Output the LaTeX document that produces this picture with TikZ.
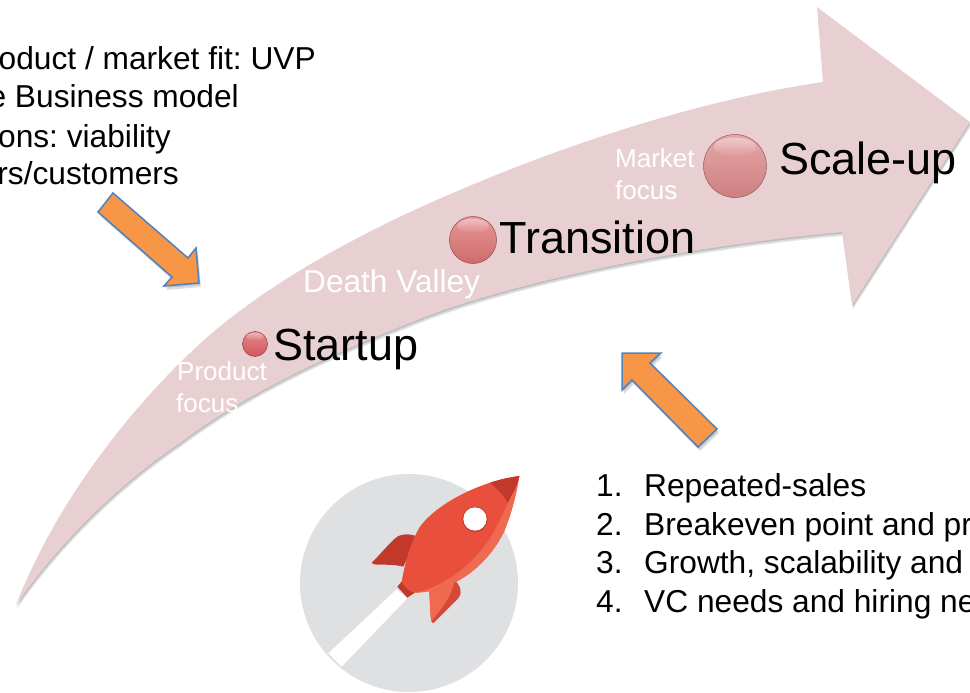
\documentclass[tikz,border=0pt]{standalone}
\usepackage{fontspec}
\setmainfont{Liberation Sans}
\usetikzlibrary{fadings}
\definecolor{bandpink}{HTML}{E8D0D2}
\definecolor{blockorange}{HTML}{F79646}
\definecolor{blockblue}{HTML}{4F81BD}
\definecolor{discgrey}{HTML}{DFE0E2}
\definecolor{rocketred}{HTML}{E94F3D}
\definecolor{rocketlight}{HTML}{EF6A50}
\definecolor{rocketdark}{HTML}{C0392B}
\definecolor{beadone}{HTML}{DF5F63}
\definecolor{beadtwo}{HTML}{E07476}
\definecolor{beadthree}{HTML}{DE8A8B}
\tikzset{
  x=1pt,y=-1pt,
  blackword/.style={font=\fontsize{45}{50}\selectfont,text=black,anchor=base west,inner sep=0pt},
  paleword/.style={font=\fontsize{26}{30}\selectfont,text=white,anchor=base west,inner sep=0pt},
  listword/.style={font=\fontsize{31.7}{36}\selectfont,text=black,inner sep=0pt},
  blockarrow/.style={fill=blockorange,draw=blockblue,line width=1.5pt,line join=miter},
}
\newcommand{\bandshape}{(16,605) .. controls (55,505) and (125,415) .. (190,353)
  .. controls (250,295) and (340,243) .. (430,203)
  .. controls (560,145) and (700,100) .. (823,82)
  -- (817,7) -- (970,122) -- (852,305) -- (842,232)
  .. controls (700,245) and (540,275) .. (430,315)
  .. controls (340,350) and (250,390) .. (180,443)
  .. controls (110,490) and (50,555) .. (16,605) -- cycle}
\newcommand{\arrowone}{(113,193) -- (188,258) -- (196,248) -- (199,283) -- (164,286) -- (172,277) -- (98,212) -- cycle}
\newcommand{\arrowtwo}{(622,353) -- (661,353) -- (650,363) -- (717,429) -- (698,447) -- (632,380) -- (622,390) -- cycle}
\newcommand{\beadat}[4]{%
  \shade[top color=#4!75!white,bottom color=#4!92!black,draw=#4!65!black,line width=0.5pt] (#1,#2) circle (#3);
  \fill[white,opacity=0.4,path fading=south] (#1,#2-#3*0.6) ellipse ({#3*0.68} and {#3*0.3});
}
\begin{document}
\frenchspacing
\begin{tikzpicture}
\useasboundingbox (0,0) rectangle (970,693);
\clip (0,0) rectangle (970,693);
% rocket disc and band
\fill[discgrey] (409,583) circle (109);
\begin{scope}[shift={(1,4)}]\fill[black,opacity=0.07] \bandshape;\end{scope}
\begin{scope}[shift={(1,3)}]\fill[black,opacity=0.09] \bandshape;\end{scope}
\begin{scope}[shift={(0.5,1.5)}]\fill[black,opacity=0.12] \bandshape;\end{scope}
\fill[bandpink] \bandshape;
% rocket
\begin{scope}[shift={(280,460)},x=0.3333pt,y=-0.3333pt]
  \fill[white] (350,388) -- (382,415) -- (185,620) -- (145,580) -- cycle;
  \fill[rocketdark] (275,308) .. controls (300,285) and (335,240) .. (355,228) .. controls (375,220) and (395,222) .. (412,230) -- (370,320) .. controls (340,312) and (300,315) .. (282,313) -- cycle;
  \fill[rocketred!92!black] (520,360) .. controls (540,370) and (550,395) .. (535,415) -- (462,488) .. controls (455,493) and (453,480) .. (452,470) -- (448,395) -- cycle;
  \fill[rocketlight] (448,395) -- (452,470) -- (455,482) .. controls (490,440) and (515,410) .. (522,365) -- cycle;
  \fill[rocketdark] (352,380) -- (365,365) -- (405,398) -- (382,413) -- cycle;
  \fill[rocketred] (718,48) .. controls (620,60) and (480,120) .. (420,200) .. controls (390,250) and (375,310) .. (365,365) .. controls (375,385) and (390,395) .. (405,398) .. controls (520,395) and (620,320) .. (672,215) .. controls (695,160) and (710,100) .. (718,48) -- cycle;
  \fill[rocketlight] (718,48) .. controls (710,100) and (695,160) .. (672,215) .. controls (620,320) and (520,395) .. (405,398) .. controls (500,380) and (600,300) .. (650,200) .. controls (675,150) and (700,100) .. (718,48) -- cycle;
  \fill[rocketdark] (718,48) .. controls (690,52) and (660,58) .. (630,68) .. controls (650,85) and (670,105) .. (683,127) .. controls (700,100) and (712,75) .. (718,48) -- cycle;
  \fill[rocketdark] (585,178) circle (38);
  \fill[white] (585,177) circle (35);
\end{scope}
% orange block arrows
\begin{scope}[shift={(2,4)}]
  \fill[black,opacity=0.13] \arrowone;
  \fill[black,opacity=0.13] \arrowtwo;
\end{scope}
\begin{scope}[shift={(1,2)}]
  \fill[black,opacity=0.13] \arrowone;
  \fill[black,opacity=0.13] \arrowtwo;
\end{scope}
\path[blockarrow] \arrowone;
\path[blockarrow] \arrowtwo;
% beads
\beadat{255}{344}{12.5}{beadone}
\beadat{473}{240}{23.5}{beadtwo}
\beadat{735}{166}{31.5}{beadthree}
% stage labels
\node[blackword] (startup) at (273,360) {Startup};
\node[blackword] (transition) at (499,253) {Transition};
\node[blackword] (scaleup) at (779,174) {Scale-up};
\node[paleword,font=\fontsize{31.6}{36}\selectfont] (death) at (303,292) {Death Valley};
\node[paleword] (product) at (177,380) {Product};
\node[paleword] (pfocus) at (176,412) {focus};
\node[paleword] (market) at (615,167) {Market};
\node[paleword] (mfocus) at (615,199) {focus};
% upper-left list
\node[listword,anchor=base east] (l1) at (316,70) {oduct / market fit: UVP};
\node[listword,anchor=base east] (l2) at (239,107) {e Business model};
\node[listword,anchor=base east] (l3) at (171,147) {ons: viability};
\node[listword,anchor=base east] (l4) at (179,184) {rs/customers};
% lower-right list
\node[listword,anchor=base west] (n1) at (596,496) {1.};
\node[listword,anchor=base west] (n2) at (596,535) {2.};
\node[listword,anchor=base west] (n3) at (596,573) {3.};
\node[listword,anchor=base west] (n4) at (596,612) {4.};
\node[listword,anchor=base west] (r1) at (644,496) {Repeated-sales};
\node[listword,anchor=base west] (r2) at (644,535) {Breakeven point and pr};
\node[listword,anchor=base west] (r3) at (644,573) {Growth, scalability and};
\node[listword,anchor=base west] (r4) at (644,612) {VC needs and hiring ne};
\end{tikzpicture}
\end{document}
